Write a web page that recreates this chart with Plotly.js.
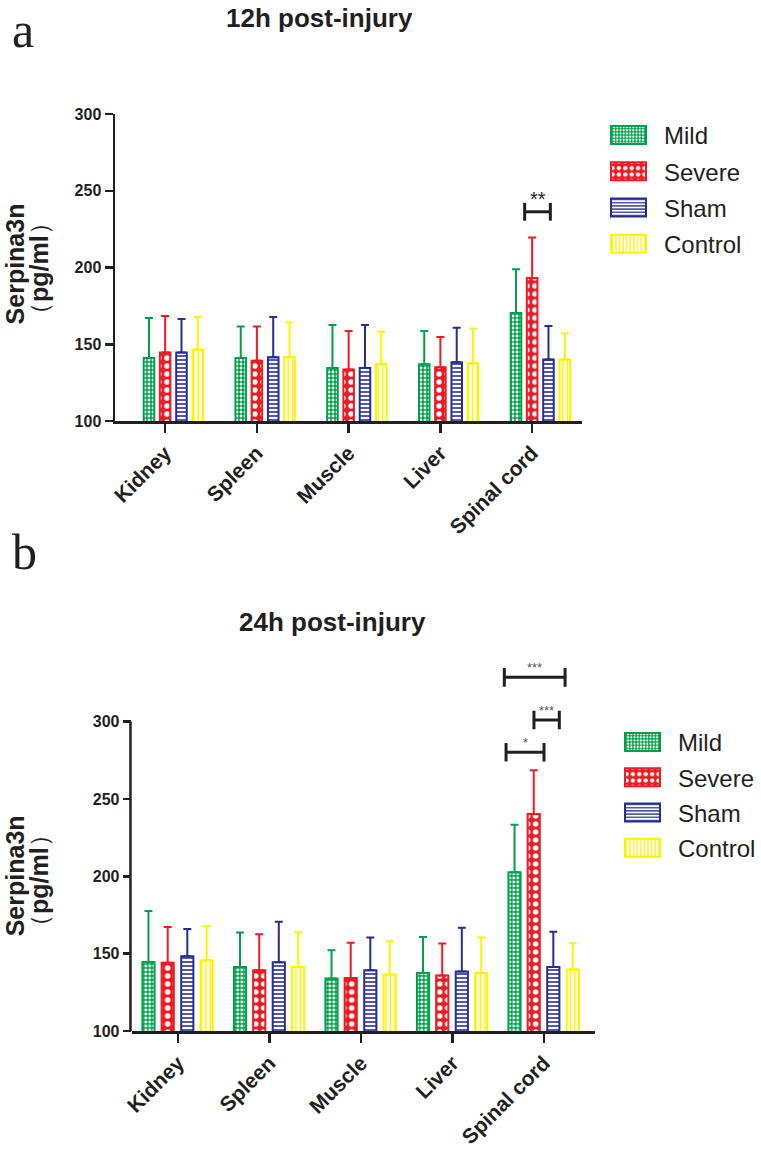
<!DOCTYPE html>
<html>
<head>
<meta charset="utf-8">
<script src="https://cdn.plot.ly/plotly-3.0.1.min.js"></script>
<style>
html,body{margin:0;padding:0;background:#ffffff;}
#chart{width:761px;height:1155px;}
</style>
</head>
<body>
<div id="chart"></div>
<script>
// ---------------- DATA ----------------
const categories = ['Kidney', 'Spleen', 'Muscle', 'Liver', 'Spinal cord'];
const groupNames = ['Mild', 'Severe', 'Sham', 'Control'];
const yTickVals = [100, 150, 200, 250, 300];

// 12h post-injury: means and upper error (SD)
const mild12 = [141.0, 141.0, 134.5, 137.0, 170.4];
const severe12 = [144.6, 139.3, 133.5, 135.0, 193.2];
const sham12 = [144.6, 141.5, 134.5, 138.2, 140.0];
const control12 = [146.5, 141.7, 136.9, 137.6, 140.0];
const mild12Err = [26.1, 20.5, 28.0, 21.7, 28.4];
const severe12Err = [23.8, 22.2, 25.1, 19.7, 26.3];
const sham12Err = [21.8, 26.3, 28.0, 22.6, 21.9];
const control12Err = [21.2, 22.4, 21.3, 22.6, 17.1];

// 24h post-injury: means and upper error (SD)
const mild24 = [144.6, 141.4, 133.9, 137.5, 202.6];
const severe24 = [144.2, 139.2, 134.3, 135.8, 240.3];
const sham24 = [148.3, 144.4, 139.2, 138.4, 141.4];
const control24 = [145.7, 141.4, 136.6, 137.5, 139.7];
const mild24Err = [33.0, 22.2, 18.3, 23.3, 30.8];
const severe24Err = [23.0, 23.3, 22.8, 20.7, 28.2];
const sham24Err = [17.6, 26.3, 21.2, 28.4, 22.8];
const control24Err = [22.0, 22.4, 21.4, 22.9, 17.1];

// significance brackets: [from (category index units), to, height (pg/ml), label]
const sig12 = [[3.92, 4.20, 236.3, '**']];
const sig24 = [[3.566, 4.23, 328.6, '***'], [3.89, 4.167, 301.0, '***'], [3.585, 4.0, 280.2, '*']];

// ---------------- STYLE ----------------
const ink = '#231f20';
const colors = {Mild: '#00a04b', Severe: '#ec1c24', Sham: '#262f8f', Control: '#fff200'};
const patterns = {
  Mild:    {shape: '.', fgcolor: '#ffffff', bgcolor: colors.Mild, size: 4, solidity: 0.4},
  Severe:  {shape: '.', fgcolor: '#ffffff', bgcolor: colors.Severe, size: 8, solidity: 0.35},
  Sham:    {shape: '-', fgcolor: colors.Sham, bgcolor: '#ffffff', size: 4, solidity: 0.4},
  Control: {shape: '|', fgcolor: colors.Control, bgcolor: '#ffffff', size: 4.5, solidity: 0.35}
};
const offsets12 = [-0.232, -0.056, 0.122, 0.300], width12 = 0.115;
const offsets24 = [-0.389, -0.179, 0.035, 0.247], width24 = 0.133;

function makeBar(name, vals, errs, i, xa, ya, legend, offsets, w) {
  return {
    type: 'bar', name: name, x: categories, y: vals,
    xaxis: xa, yaxis: ya, legend: legend, legendgroup: legend + name,
    offset: offsets[i], width: w,
    marker: {color: colors[name], pattern: patterns[name], line: {color: colors[name], width: 2}},
    error_y: {type: 'data', symmetric: false, array: errs, arrayminus: vals.map(() => 0),
              color: colors[name], thickness: 2, width: 4}
  };
}

const series12 = [mild12, severe12, sham12, control12];
const errs12 = [mild12Err, severe12Err, sham12Err, control12Err];
const series24 = [mild24, severe24, sham24, control24];
const errs24 = [mild24Err, severe24Err, sham24Err, control24Err];

const data = [];
groupNames.forEach((g, i) => data.push(makeBar(g, series12[i], errs12[i], i, 'x', 'y', 'legend', offsets12, width12)));
groupNames.forEach((g, i) => data.push(makeBar(g, series24[i], errs24[i], i, 'x2', 'y2', 'legend2', offsets24, width24)));

const ff = 'Liberation Sans, Arial, sans-serif';
const yTickFont = {family: ff, size: 16, color: ink, weight: 'bold'};
const xTickFont = {family: ff, size: 21, color: ink, weight: 'bold'};
function xAxis(domain, range, anchor) {
  return {domain: domain, range: range, anchor: anchor, type: 'category',
    showline: true, linecolor: ink, linewidth: 2.5, showgrid: false, zeroline: false,
    ticks: 'outside', ticklen: 9, tickwidth: 2.5, tickcolor: ink, tickangle: -45,
    tickfont: xTickFont, fixedrange: true};
}
function yAxis(domain, range, anchor, showline) {
  return {domain: domain, range: range, anchor: anchor,
    showline: showline, linecolor: ink, linewidth: 2.5, showgrid: false, zeroline: false,
    tickmode: 'array', tickvals: yTickVals, ticktext: yTickVals.map(String),
    ticks: 'outside', ticklen: 8, tickwidth: 2.5, tickcolor: ink, ticklabelstandoff: 0,
    tickfont: yTickFont, fixedrange: true};
}

const shapes = [];
const annotations = [];
function addBrackets(list, xa, ya, h, starFont) {
  list.forEach(b => {
    const [x0, x1, y, lab] = b;
    const line = {color: ink, width: 3};
    shapes.push({type: 'line', xref: xa, yref: ya, x0: x0, x1: x1, y0: y, y1: y, line: line});
    shapes.push({type: 'line', xref: xa, yref: ya, x0: x0, x1: x0, y0: y - h, y1: y + h, line: line});
    shapes.push({type: 'line', xref: xa, yref: ya, x0: x1, x1: x1, y0: y - h, y1: y + h, line: line});
    annotations.push({xref: xa, yref: ya, x: (x0 + x1) / 2, y: y, text: lab, showarrow: false,
      xanchor: 'center', yanchor: 'bottom', yshift: 0, font: starFont});
  });
}
addBrackets(sig12, 'x', 'y', 5.8, {family: ff, size: 20, color: ink});
addBrackets(sig24, 'x2', 'y2', 6, {family: ff, size: 13, color: '#555555'});

// y-axis line of the lower panel (its range extends above 300 for the brackets)
shapes.push({type: 'line', xref: 'x2 domain', yref: 'y2', xsizemode: 'pixel', xanchor: 0,
  x0: -1.25, x1: -1.25, y0: 100, y1: 300, line: {color: ink, width: 2.5}});

const titleFont = {family: ff, size: 26, color: ink, weight: 'bold'};
const yTitleFont = {family: ff, size: 25, color: ink, weight: 'bold'};
const panelFont = {family: 'Liberation Serif, Times New Roman, serif', size: 50, color: ink};
const yTitle1 = 'Serpina3n';
const yTitle2 = '<span style="font-weight:normal">（</span>pg/ml<span style="font-weight:normal">）</span>';

annotations.push(
  {xref: 'paper', yref: 'paper', x: 10 / 761, y: 1, yshift: 0, xanchor: 'left', yanchor: 'top', text: 'a', showarrow: false, font: panelFont},
  {xref: 'paper', yref: 'paper', x: 10 / 761, y: 1 - 522 / 1155, xanchor: 'left', yanchor: 'top', text: 'b', showarrow: false, font: panelFont},
  {xref: 'paper', yref: 'paper', x: 319 / 761, y: 1 - 18 / 1155, xanchor: 'center', yanchor: 'middle', text: '12h post-injury', showarrow: false, font: titleFont},
  {xref: 'paper', yref: 'paper', x: 332 / 761, y: 1 - 622 / 1155, xanchor: 'center', yanchor: 'middle', text: '24h post-injury', showarrow: false, font: titleFont}
);
[['y', 202], ['y2', 200]].forEach(([ya, mid]) => {
  annotations.push(
    {xref: 'paper', yref: ya, x: 15 / 761, y: mid, xanchor: 'center', yanchor: 'middle', textangle: -90, text: yTitle1, showarrow: false, font: yTitleFont},
    {xref: 'paper', yref: ya, x: 39 / 761, y: mid - 3, xanchor: 'center', yanchor: 'middle', textangle: -90, text: yTitle2, showarrow: false, font: yTitleFont}
  );
});

const legendFont = {family: ff, size: 24, color: ink};
const layout = {
  width: 761, height: 1155, autosize: false,
  margin: {l: 0, r: 0, t: 0, b: 0},
  paper_bgcolor: '#ffffff', plot_bgcolor: 'rgba(0,0,0,0)',
  barmode: 'overlay', showlegend: true,
  xaxis: xAxis([115 / 761, 582 / 761], [-0.545, 4.545], 'y'),
  yaxis: yAxis([1 - 421 / 1155, 1 - 114 / 1155], [100, 300], 'x', true),
  xaxis2: xAxis([131.7 / 761, 595 / 761], [-0.506, 4.557], 'y2'),
  yaxis2: yAxis([1 - 1031 / 1155, 1 - 652 / 1155], [100, 345], 'x2', false),
  legend: {x: 593 / 761, y: 1 - 113 / 1155, xanchor: 'left', yanchor: 'top', font: legendFont,
           bgcolor: 'rgba(0,0,0,0)', tracegroupgap: 2, traceorder: 'grouped', itemwidth: 61},
  legend2: {x: 607 / 761, y: 1 - 720 / 1155, xanchor: 'left', yanchor: 'top', font: legendFont,
           bgcolor: 'rgba(0,0,0,0)', tracegroupgap: 1, traceorder: 'grouped', itemwidth: 61},
  shapes: shapes,
  annotations: annotations,
  hovermode: false
};

Plotly.newPlot('chart', data, layout, {staticPlot: true, displayModeBar: false}).then(gd => {
  // widen the bar swatches in both legends (35 x 18 px, as in the original figure)
  gd.querySelectorAll('g.legendpoints path').forEach(p => {
    p.setAttribute('d', 'M17.5,9H-17.5V-9H17.5Z');
  });
});
</script>
</body>
</html>
